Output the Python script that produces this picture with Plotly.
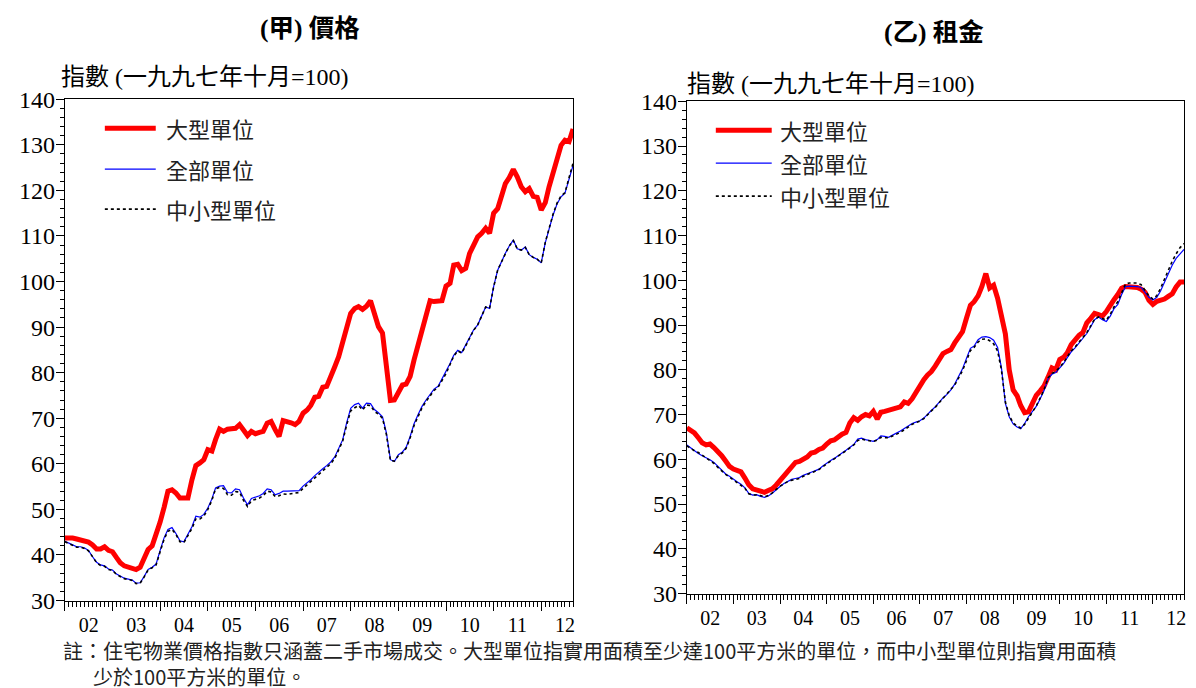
import pandas as pd
import plotly.graph_objects as go

# monthly index values, Jan 2002 - Sep 2012
months = pd.date_range("2002-01-01", periods=129, freq="MS")

price_large = [
    43.7, 43.8, 43.7, 43.5, 43.3, 43.1, 42.8, 42.2, 41.3, 41.3, 41.8, 41.0,
    40.7, 39.4, 38.3, 37.6, 37.4, 37.2, 36.8, 37.3, 39.0, 41.2, 42.0, 44.3,
    47.2, 50.5, 54.0, 54.3, 53.6, 52.5, 52.4, 52.5, 56.5, 59.6, 60.2, 60.9,
    63.1, 62.8, 65.3, 67.6, 67.1, 67.6, 67.7, 67.8, 68.6, 67.6, 66.2, 67.1,
    66.6, 66.9, 67.1, 68.9, 69.3, 67.5, 66.0, 69.5, 69.3, 69.0, 68.6, 69.3,
    71.1, 71.8, 72.8, 74.6, 74.8, 76.8, 77.0, 79.5, 81.3, 83.5, 86.5, 89.4,
    93.0, 94.1, 94.5, 93.9, 94.6, 95.8, 93.0, 90.1, 88.7, 80.6, 73.9, 74.0,
    75.5, 77.3, 77.5, 79.2, 82.8, 86.0, 89.0, 92.5, 95.8, 95.6, 95.6, 95.8,
    99.0, 99.6, 103.6, 103.8, 102.4, 102.9, 106.2, 108.0, 109.8, 110.6, 111.7, 110.6,
    115.0, 116.0, 118.5, 121.5, 122.8, 124.6, 123.0, 120.8, 119.7, 120.4, 118.7, 118.5,
    115.7, 117.3, 120.8, 124.0, 127.0, 129.9, 131.0, 130.7, 133.5,
]
price_all = [
    43.0, 42.5, 42.2, 41.8, 41.8, 41.5, 41.0, 39.6, 38.4, 37.8, 37.6, 36.9,
    36.7, 35.8, 35.3, 34.9, 34.7, 34.5, 33.8, 33.9, 35.3, 36.8, 37.3, 38.0,
    41.0, 43.8, 45.6, 46.0, 44.7, 43.1, 42.9, 44.6, 46.2, 48.5, 48.3, 48.9,
    50.3, 52.3, 54.7, 55.1, 55.2, 53.7, 53.6, 54.5, 54.3, 52.5, 51.0, 52.4,
    52.7, 53.0, 53.5, 54.5, 54.3, 53.2, 53.5, 54.0, 54.0, 54.0, 54.0, 54.1,
    55.1, 55.8, 56.5, 57.4, 58.2, 58.9, 59.6, 60.4, 61.5, 63.2, 65.3, 69.0,
    72.2, 73.0, 73.3, 72.2, 73.3, 73.2, 71.9, 71.2, 70.3, 66.8, 60.9, 60.5,
    62.0, 62.6, 63.6, 66.0, 68.8, 70.8, 72.6, 74.0, 75.3, 76.4, 77.0, 78.6,
    80.0, 82.0, 83.8, 84.9, 84.4, 86.0, 87.8, 89.4, 90.5, 92.3, 94.4, 94.1,
    98.9, 102.5, 104.3, 106.2, 107.8, 109.1, 107.2, 106.9, 107.6, 105.9, 105.3, 104.9,
    104.1, 108.5, 111.5, 114.6, 117.0, 118.6, 119.4, 122.3, 125.5,
]
price_small = [
    42.9, 42.5, 42.1, 41.7, 41.7, 41.4, 40.9, 39.5, 38.3, 37.7, 37.5, 36.8,
    36.6, 35.7, 35.2, 34.8, 34.6, 34.4, 33.7, 33.8, 35.2, 36.7, 37.2, 37.8,
    40.7, 43.5, 45.2, 45.6, 44.5, 42.9, 42.7, 44.3, 45.8, 47.9, 47.9, 48.5,
    50.0, 52.0, 54.5, 54.8, 54.6, 53.2, 53.1, 53.9, 53.8, 52.0, 50.6, 51.9,
    52.2, 52.5, 53.0, 54.0, 53.8, 52.8, 53.0, 53.4, 53.3, 53.4, 53.5, 53.7,
    54.6, 55.4, 56.0, 56.9, 57.7, 58.4, 59.1, 60.0, 61.2, 62.9, 65.0, 68.5,
    71.6, 72.3, 72.8, 71.8, 72.9, 72.8, 71.5, 70.9, 70.0, 66.4, 60.7, 60.6,
    61.8, 62.4, 63.4, 65.7, 68.4, 70.4, 72.3, 73.7, 75.0, 76.1, 76.8, 78.4,
    79.8, 81.8, 83.6, 84.8, 84.3, 85.9, 87.7, 89.3, 90.5, 92.3, 94.4, 94.1,
    98.8, 102.5, 104.3, 106.1, 107.8, 109.0, 107.2, 106.9, 107.5, 105.9, 105.3, 104.9,
    104.1, 108.6, 111.6, 114.8, 117.2, 118.8, 119.5, 122.6, 126.0,
]

rent_large = [
    67.0, 66.5, 65.9, 64.8, 63.7, 63.2, 63.4, 62.6, 61.8, 60.8, 59.6, 58.4,
    57.8, 57.5, 57.2, 55.8, 54.3, 53.4, 53.2, 52.8, 52.6, 53.0, 53.4, 54.2,
    55.2, 56.4, 57.1, 58.0, 59.3, 59.5, 59.9, 60.5, 61.4, 61.6, 62.2, 62.5,
    63.4, 64.1, 64.3, 65.0, 65.6, 66.0, 68.1, 69.3, 68.7, 69.5, 70.0, 69.7,
    70.7, 69.0, 70.5, 70.7, 71.0, 71.3, 71.5, 71.7, 72.8, 72.5, 73.5, 75.0,
    76.5, 77.8, 78.8, 79.6, 80.8, 82.5, 83.6, 84.1, 84.5, 86.0, 87.2, 88.5,
    91.5, 94.4, 95.2, 96.5, 98.6, 101.5, 98.3, 98.9, 96.0, 92.5, 88.0, 80.0,
    75.5, 74.2, 72.0, 70.4, 70.6, 72.5, 74.3, 75.3, 76.4, 78.3, 80.4, 80.0,
    82.3, 82.8, 83.8, 85.6, 86.8, 87.7, 88.3, 90.5, 91.5, 92.6, 92.3, 92.0,
    93.0, 94.5, 95.6, 96.8, 98.2, 98.6, 98.6, 98.5, 98.4, 98.0, 97.3, 95.5,
    94.6, 95.3, 95.5, 95.8, 96.4, 97.0, 98.5, 99.6, 99.6,
]
rent_all = [
    63.2, 62.5, 61.9, 61.3, 60.8, 60.4, 59.9, 59.3, 58.4, 57.5, 56.7, 56.2,
    55.5, 54.9, 54.4, 53.6, 52.4, 52.0, 52.1, 51.7, 51.5, 51.8, 52.4, 53.2,
    53.9, 54.6, 55.1, 55.5, 55.7, 55.9, 56.4, 56.8, 57.1, 57.4, 57.8, 58.5,
    59.2, 59.7, 60.2, 60.9, 61.4, 62.0, 62.7, 63.3, 64.5, 64.7, 64.4, 64.2,
    64.0, 64.4, 65.2, 65.1, 64.9, 65.4, 65.8, 66.3, 66.9, 67.5, 68.0, 68.3,
    68.6, 69.2, 70.1, 70.9, 71.7, 72.8, 73.7, 74.5, 75.5, 76.8, 78.5, 80.2,
    82.5, 84.8, 85.3, 86.7, 87.3, 87.4, 87.2, 86.6, 85.0, 80.5, 72.5, 69.5,
    67.9, 67.2, 66.8, 68.0, 69.5, 70.8, 71.8, 73.5, 75.4, 78.0, 79.0, 79.4,
    80.3, 81.4, 82.7, 84.0, 84.9, 85.9, 87.0, 88.1, 89.6, 91.2, 91.8, 91.2,
    90.8, 92.0, 93.6, 94.6, 96.8, 98.6, 98.7, 98.7, 98.6, 98.4, 97.4, 96.2,
    95.6, 96.2, 97.6, 99.5, 101.6, 103.4, 104.9, 106.0, 106.9,
]
rent_small = [
    63.0, 62.4, 61.9, 61.5, 60.9, 60.4, 59.8, 59.1, 58.2, 57.3, 56.6, 56.0,
    55.4, 54.8, 54.3, 53.5, 52.3, 52.0, 52.0, 51.9, 51.6, 51.9, 52.5, 53.3,
    54.0, 54.5, 55.0, 55.3, 55.5, 55.7, 56.2, 56.6, 57.0, 57.3, 57.7, 58.3,
    59.0, 59.6, 60.1, 60.8, 61.3, 61.9, 62.6, 63.2, 64.2, 64.5, 64.3, 64.1,
    64.0, 64.3, 64.9, 64.8, 64.8, 65.2, 65.6, 66.0, 66.6, 67.2, 67.8, 68.2,
    68.5, 69.1, 70.0, 70.8, 71.6, 72.6, 73.5, 74.4, 75.4, 76.6, 78.2, 79.8,
    82.0, 84.3, 85.0, 86.2, 86.8, 86.9, 86.5, 85.8, 84.2, 80.0, 72.8, 69.8,
    68.1, 67.4, 67.0, 67.8, 69.2, 70.6, 71.9, 73.7, 75.6, 78.2, 79.2, 79.6,
    80.5, 81.6, 82.9, 84.2, 85.1, 86.1, 87.2, 88.3, 89.8, 91.3, 91.8, 91.4,
    91.1, 92.4, 94.0, 95.2, 97.3, 99.2, 99.4, 99.4, 99.4, 99.0, 97.8, 96.5,
    95.8, 96.6, 98.2, 100.3, 102.6, 104.3, 105.9, 107.3, 108.2,
]

series_names = ["大型單位", "全部單位", "中小型單位"]

SERIF = "Liberation Serif, Noto Sans CJK TC, serif"
CJK = "Noto Sans CJK TC, Liberation Serif, sans-serif"
W, H = 1196, 688


# the page shows the figure a little shifted / squeezed, so convert
# wanted screen pixels into figure paper fractions
def px(x):
    return (x - 7) / W


def py(y):
    return 1 - (y - 20.6) / 0.9637 / H


fig = go.Figure()

panels = [
    ("x", "y", price_large, price_all, price_small),
    ("x2", "y2", rent_large, rent_all, rent_small),
]
for xa, ya, big, total, small in panels:
    fig.add_trace(go.Scatter(x=months, y=big, xaxis=xa, yaxis=ya, mode="lines",
                             line=dict(color="#ff0000", width=5), showlegend=False))
    fig.add_trace(go.Scatter(x=months, y=total, xaxis=xa, yaxis=ya, mode="lines",
                             line=dict(color="#0000ff", width=1.2), showlegend=False))
    fig.add_trace(go.Scatter(x=months, y=small, xaxis=xa, yaxis=ya, mode="lines",
                             line=dict(color="black", width=1.6, dash="dot"), showlegend=False))

xaxis_common = dict(
    type="date", range=["2002-01-01", "2012-09-01"],
    tick0="2002-01-01", dtick="M12", tickformat="%y", ticklabelmode="period",
    ticks="outside", ticklen=9, tickwidth=1, tickcolor="black",
    minor=dict(dtick="M1", ticks="outside", ticklen=5, tickcolor="black", tickwidth=1),
    showgrid=False, showline=True, linecolor="black", linewidth=1, mirror=True,
    tickfont=dict(family=SERIF, size=20, color="black"), ticklabelstandoff=-3,
)
yaxis_common = dict(
    range=[30, 140], dtick=10, ticks="outside", ticklen=8, tickcolor="black",
    minor=dict(dtick=2, ticks="outside", ticklen=4, tickcolor="black"),
    showgrid=False, showline=True, linecolor="black", linewidth=1, mirror=True,
    tickfont=dict(family=SERIF, size=24, color="black"), ticklabelstandoff=-4,
)

fig.update_layout(
    width=W, height=H, margin=dict(l=0, r=0, t=0, b=0),
    paper_bgcolor="white", plot_bgcolor="white",
    xaxis=dict(xaxis_common, domain=[px(64), px(573)], anchor="y"),
    yaxis=dict(yaxis_common, domain=[py(601), py(99)], anchor="x"),
    xaxis2=dict(xaxis_common, domain=[px(687), px(1185)], anchor="y2"),
    yaxis2=dict(yaxis_common, domain=[py(594), py(101)], anchor="x2"),
)

ann = []
txt = dict(xref="paper", yref="paper", showarrow=False, xanchor="center", yanchor="middle")
# panel titles and axis titles
ann.append(dict(txt, x=px(310), y=py(28), text="<b>(甲) 價格</b>",
                font=dict(family=SERIF, size=25.5, color="black")))
ann.append(dict(txt, x=px(935), y=py(32), text="<b>(乙) 租金</b>",
                font=dict(family=SERIF, size=25.5, color="black")))
ann.append(dict(txt, x=px(58), y=py(77), text="指數 (一九九七年十月=100)",
                xanchor="left", font=dict(family=SERIF, size=24, color="black")))
ann.append(dict(txt, x=px(685), y=py(84), text="指數 (一九九七年十月=100)",
                xanchor="left", font=dict(family=SERIF, size=24, color="black")))

# legends drawn inside each panel
shapes = []
styles = [dict(color="#ff0000", width=5), dict(color="#0000ff", width=1.2),
          dict(color="black", width=1.6, dash="dot")]
legend_rows = [
    (104, 155, 163, [128, 169, 209]),
    (716, 772, 778, [130, 163, 196]),
]
for x0, x1, xt, ys in legend_rows:
    for name, st, yy in zip(series_names, styles, ys):
        shapes.append(dict(type="line", xref="paper", yref="paper",
                           x0=px(x0), x1=px(x1), y0=py(yy), y1=py(yy), line=st))
        ann.append(dict(txt, x=px(xt), y=py(yy), text=name, xanchor="left",
                        font=dict(family=CJK, size=22, color="#222")))

# footnote, two lines with the second one indented
note = ("註：住宅物業價格指數只涵蓋二手市場成交。大型單位指實用面積至少達100平方米的單位，而中小型單位則指實用面積"
        "<br>\u3000\u2002少於100平方米的單位。")
ann.append(dict(txt, x=px(60), y=py(664), xanchor="left", align="left", text=note,
                font=dict(family=CJK, size=20, color="#222")))

fig.update_layout(annotations=ann, shapes=shapes)

fig.write_html("out.html")
